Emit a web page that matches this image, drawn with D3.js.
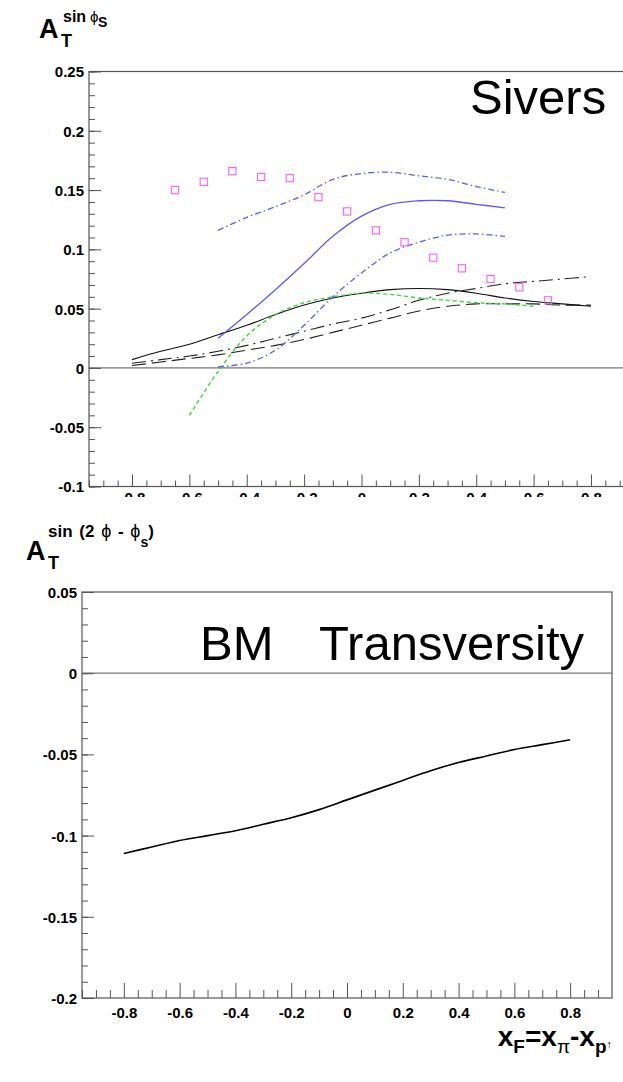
<!DOCTYPE html>
<html><head><meta charset="utf-8">
<script src="https://cdn.jsdelivr.net/npm/d3@7"></script>
<style>
  body { margin: 0; background: #fff; }
  svg { display: block; }
  text { font-family: "Liberation Sans", Helvetica, Arial, sans-serif; }
</style>
</head><body>
<svg id="chart" width="623" height="1082"></svg>
<script>
// ---- x_F grids ----
const xfWide   = [-0.8,-0.7,-0.6,-0.5,-0.4,-0.3,-0.2,-0.1,0,0.1,0.2,0.3,0.4,0.5,0.6,0.7,0.8];
const xfMid    = [-0.6,-0.5,-0.4,-0.3,-0.2,-0.1,0,0.1,0.2,0.3,0.4,0.5,0.6];
const xfNarrow = [-0.5,-0.4,-0.3,-0.2,-0.1,0,0.1,0.2,0.3,0.4,0.5];

// ---- Sivers asymmetry A_T^{sin phi_S} ----
const siversBlackSolid  = [0.007,0.014,0.020,0.028,0.036,0.045,0.053,0.059,0.063,0.066,0.067,0.066,0.063,0.059,0.056,0.054,0.052];
const siversBlackDashA  = [0.004,0.007,0.010,0.014,0.019,0.025,0.031,0.037,0.042,0.049,0.057,0.063,0.067,0.071,0.073,0.075,0.077];
const siversBlackDashB  = [0.002,0.005,0.008,0.011,0.015,0.019,0.024,0.030,0.036,0.042,0.048,0.052,0.054,0.054,0.054,0.053,0.053];
const siversBlueSolid   = [0.025,0.045,0.066,0.088,0.111,0.128,0.138,0.141,0.141,0.138,0.135];
const siversBlueUpper   = [0.116,0.127,0.136,0.146,0.159,0.164,0.165,0.162,0.159,0.153,0.148];
const siversBlueLower   = [0.001,0.004,0.015,0.036,0.060,0.080,0.097,0.106,0.112,0.113,0.111];
const siversGreen       = [-0.040,-0.003,0.027,0.045,0.055,0.060,0.063,0.062,0.059,0.057,0.055,0.054,0.052];
const siversPointsX     = [-0.65,-0.55,-0.45,-0.35,-0.25,-0.15,-0.05,0.05,0.15,0.25,0.35,0.45,0.55,0.65];
const siversPointsY     = [0.150,0.157,0.166,0.161,0.160,0.144,0.132,0.116,0.106,0.093,0.084,0.075,0.068,0.057];

// ---- Boer-Mulders x transversity A_T^{sin(2phi - phi_S)} ----
const bmCurve = [-0.111,-0.107,-0.103,-0.100,-0.097,-0.093,-0.089,-0.084,-0.078,-0.072,-0.066,-0.060,-0.055,-0.051,-0.047,-0.044,-0.041];

// ---- tick labels ----
const xTicks      = [-0.8,-0.6,-0.4,-0.2,0,0.2,0.4,0.6,0.8];
const xMinor      = [-0.95,-0.9,-0.85,-0.75,-0.7,-0.65,-0.55,-0.5,-0.45,-0.35,-0.3,-0.25,-0.15,-0.1,-0.05,0.05,0.1,0.15,0.25,0.3,0.35,0.45,0.5,0.55,0.65,0.7,0.75,0.85,0.9];
const yTicksTop   = [-0.1,-0.05,0,0.05,0.1,0.15,0.2,0.25];
const yTicksBot   = [-0.2,-0.15,-0.1,-0.05,0,0.05];

const svg = d3.select("#chart");
const AXIS = "#555";

function minorValues(lo, hi, step) {
  const out = [];
  const n = Math.round((hi - lo) / step);
  for (let i = 0; i <= n; i++) out.push(+(lo + i * step).toFixed(4));
  return out;
}

function drawFrame(g, x, y, yTicks, yMinorStep, opts) {
  const [x0, x1] = x.range();
  const [y0, y1] = y.range(); // y0 bottom, y1 top
  // zero line
  g.append("line").attr("x1", x0).attr("x2", x1).attr("y1", y(0)).attr("y2", y(0))
    .attr("stroke", "#777").attr("stroke-width", 1.3);
  // frame
  g.append("rect").attr("x", x0).attr("y", y1).attr("width", x1 - x0).attr("height", y0 - y1)
    .attr("fill", "none").attr("stroke", AXIS).attr("stroke-width", 1.2);

  // left axis, ticks pointing inward
  const yMinor = minorValues(y.domain()[0], y.domain()[1], yMinorStep);
  g.append("g").attr("transform", `translate(${x0},0)`)
    .call(d3.axisLeft(y).tickValues(yMinor).tickSize(-opts.yMinorLen).tickFormat(""))
    .call(s => s.select(".domain").remove())
    .selectAll("line").attr("stroke", AXIS);
  const ya = g.append("g").attr("transform", `translate(${x0},0)`)
    .call(d3.axisLeft(y).tickValues(yTicks).tickSize(-opts.yMajorLen).tickPadding(opts.yPad)
      .tickFormat(d => String(d)));
  ya.select(".domain").remove();
  ya.selectAll("line").attr("stroke", AXIS);
  ya.selectAll("text").attr("fill", "#000").style("font-size", "15px").style("font-weight", "bold")
    .attr("dy", "0.36em");

  // bottom axis
  g.append("g").attr("transform", `translate(0,${y0})`)
    .call(d3.axisBottom(x).tickValues(xMinor).tickSize(-opts.xMinorLen).tickFormat(""))
    .call(s => s.select(".domain").remove())
    .selectAll("line").attr("stroke", AXIS);
  const xa = g.append("g").attr("transform", `translate(0,${y0})`)
    .call(d3.axisBottom(x).tickValues(xTicks).tickSize(-opts.xMajorLen).tickPadding(opts.xPad)
      .tickFormat(d => String(d)));
  xa.select(".domain").remove();
  xa.selectAll("line").attr("stroke", AXIS);
  xa.selectAll("text").attr("fill", "#000").style("font-size", "15px").style("font-weight", "bold");
}

// ================= Top panel: Sivers =================
const defs = svg.append("defs");
defs.append("clipPath").attr("id", "topClip")
  .append("rect").attr("x", 0).attr("y", 0).attr("width", 623).attr("height", 497);

const topG = svg.append("g").attr("clip-path", "url(#topClip)");
const xT = d3.scaleLinear().domain([-0.95, 0.95]).range([89, 634]);
const yT = d3.scaleLinear().domain([-0.1, 0.25]).range([486.5, 71.5]);
drawFrame(topG, xT, yT, yTicksTop, 0.01,
  { yMajorLen: 12, yMinorLen: 6, yPad: 5, xMajorLen: 12, xMinorLen: 6, xPad: 6 });

const lineT = (xs) => d3.line().x((d, i) => xT(xs[i])).y(d => yT(d)).curve(d3.curveCatmullRom);

const curvesTop = [
  { xs: xfWide,   ys: siversBlackDashB, color: "#222", w: 1.1, dash: "14,6" },
  { xs: xfWide,   ys: siversBlackDashA, color: "#222", w: 1.1, dash: "14,5,2,5" },
  { xs: xfWide,   ys: siversBlackSolid, color: "#111", w: 1.1, dash: null },
  { xs: xfMid,    ys: siversGreen,      color: "#33dd33", w: 1.4, dash: "4,3" },
  { xs: xfNarrow, ys: siversBlueLower,  color: "#5a5aff", w: 1.3, dash: "6,3,1.5,3" },
  { xs: xfNarrow, ys: siversBlueUpper,  color: "#5a5aff", w: 1.3, dash: "6,3,1.5,3" },
  { xs: xfNarrow, ys: siversBlueSolid,  color: "#5a5aff", w: 1.3, dash: null },
];
curvesTop.forEach(c => {
  topG.append("path").datum(c.ys).attr("d", lineT(c.xs))
    .attr("fill", "none").attr("stroke", c.color).attr("stroke-width", c.w)
    .attr("stroke-dasharray", c.dash);
});

topG.append("g").selectAll("rect").data(siversPointsY).join("rect")
  .attr("x", (d, i) => xT(siversPointsX[i]) - 3.6)
  .attr("y", d => yT(d) - 3.6)
  .attr("width", 7.2).attr("height", 7.2)
  .attr("fill", "none").attr("stroke", "#ff5cff").attr("stroke-width", 1.1);

topG.append("text").attr("x", 470).attr("y", 114).style("font-size", "49px").text("Sivers");

// y title of top panel
svg.append("text").attr("x", 39).attr("y", 38).style("font-size", "27px").style("font-weight", "bold").text("A");
svg.append("text").attr("x", 61).attr("y", 47).style("font-size", "18px").style("font-weight", "bold").text("T");
svg.append("text").attr("x", 63).attr("y", 22).style("font-size", "16px").style("font-weight", "bold").text("sin");
svg.append("text").attr("x", 90).attr("y", 22).style("font-size", "15px").text("ϕ");
svg.append("text").attr("x", 98).attr("y", 27).style("font-size", "14px").style("font-weight", "bold").text("S");

// ================= Bottom panel: BM x Transversity =================
const botG = svg.append("g");
const xB = d3.scaleLinear().domain([-0.95, 0.95]).range([82, 612]);
const yB = d3.scaleLinear().domain([-0.2, 0.05]).range([998, 592]);
drawFrame(botG, xB, yB, yTicksBot, 0.01,
  { yMajorLen: 12, yMinorLen: 6, yPad: 5, xMajorLen: 15, xMinorLen: 8, xPad: 9 });

botG.append("path").datum(bmCurve)
  .attr("d", d3.line().x((d, i) => xB(xfWide[i])).y(d => yB(d)).curve(d3.curveCatmullRom))
  .attr("fill", "none").attr("stroke", "#000").attr("stroke-width", 1.6);

botG.append("text").attr("x", 200).attr("y", 660).style("font-size", "49px").text("BM");
botG.append("text").attr("x", 319).attr("y", 660).style("font-size", "49px").text("Transversity");

// y title of bottom panel
svg.append("text").attr("x", 26).attr("y", 560).style("font-size", "27px").style("font-weight", "bold").text("A");
svg.append("text").attr("x", 48).attr("y", 569).style("font-size", "18px").style("font-weight", "bold").text("T");
const sup = svg.append("text").attr("x", 48).attr("y", 537).style("font-size", "17px").style("font-weight", "bold")
  .attr("xml:space", "preserve").attr("word-spacing", 2);
sup.append("tspan").text("sin (2 ");
sup.append("tspan").style("font-weight", "normal").style("font-size", "18px").text("ϕ");
sup.append("tspan").text(" - ");
sup.append("tspan").style("font-weight", "normal").style("font-size", "18px").text("ϕ");
sup.append("tspan").attr("dy", 10).style("font-size", "14px").text("s");
sup.append("tspan").attr("dy", -10).text(")");

// x title
const xt = svg.append("text").attr("x", 612).attr("y", 1046).attr("text-anchor", "end")
  .style("font-weight", "bold").style("font-size", "28px");
xt.append("tspan").text("x");
xt.append("tspan").attr("dy", 7).style("font-size", "19px").text("F");
xt.append("tspan").attr("dy", -7).text("=x");
xt.append("tspan").attr("dy", 7).style("font-size", "19px").style("font-weight", "normal").text("π");
xt.append("tspan").attr("dy", -7).text("-x");
xt.append("tspan").attr("dy", 7).style("font-size", "19px").text("p");
xt.append("tspan").attr("dy", -5).style("font-size", "11px").style("font-weight", "normal").text("↑");
</script>
</body></html>
